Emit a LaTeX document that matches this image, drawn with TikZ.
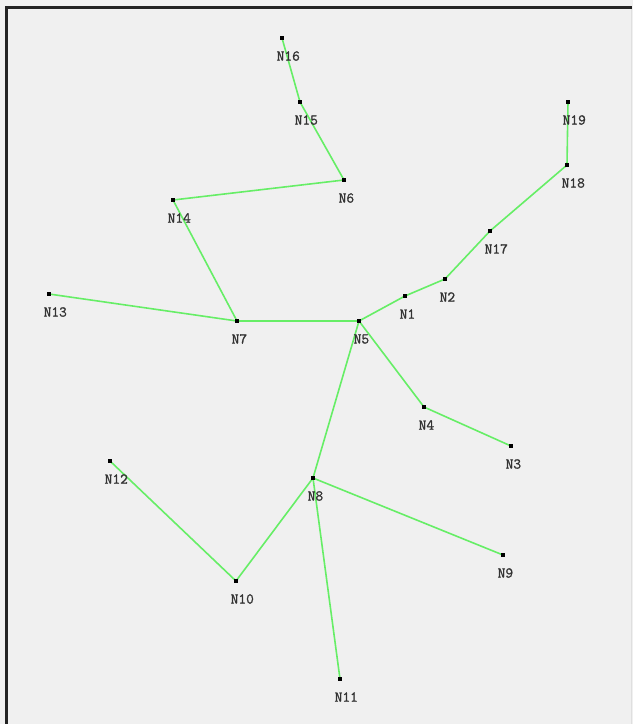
\documentclass[tikz,border=0pt]{standalone}
\usepackage{fontspec}
\newfontfamily\labfont[FakeBold=1.3]{Latin Modern Mono}
\definecolor{bgcol}{HTML}{F0F0F0}
\definecolor{framecol}{HTML}{232323}
\definecolor{edgecol}{HTML}{66EE66}
\definecolor{labcol}{HTML}{333333}
\tikzset{
  vtx/.style={fill=black, inner sep=0pt, minimum size=4pt, draw=none, rectangle},
  edge/.style={draw=edgecol, line width=1.6pt},
  lab/.style={anchor=west, inner sep=0pt, text=labcol, font=\labfont\fontsize{15}{16}\selectfont}
}
\begin{document}
\begin{tikzpicture}[x=1pt,y=-1pt]
\useasboundingbox (0,0) rectangle (633,724);
\fill[bgcol] (0,0) rectangle (633,724);
\fill[framecol] (5,6) rectangle (8,724);
\fill[framecol] (5,6) rectangle (632,9);
\draw[gray!25, line width=0.8pt] (631,9) -- (631,724);
% nodes
\node[vtx] (N16) at (282,38) {};
\node[vtx] (N15) at (300,102) {};
\node[vtx] (N6) at (344,180) {};
\node[vtx] (N14) at (173,200) {};
\node[vtx] (N13) at (49,294) {};
\node[vtx] (N7) at (237,321) {};
\node[vtx] (N5) at (359,321) {};
\node[vtx] (N1) at (405,296) {};
\node[vtx] (N2) at (445,279) {};
\node[vtx] (N17) at (490,231) {};
\node[vtx] (N18) at (567,165) {};
\node[vtx] (N19) at (568,102) {};
\node[vtx] (N4) at (424,407) {};
\node[vtx] (N3) at (511,446) {};
\node[vtx] (N12) at (110,461) {};
\node[vtx] (N8) at (313,478) {};
\node[vtx] (N10) at (236,581) {};
\node[vtx] (N9) at (503,555) {};
\node[vtx] (N11) at (340,679) {};
% edges
\draw[edge] (N16.center) -- (N15.center);
\draw[edge] (N15.center) -- (N6.center);
\draw[edge] (N6.center) -- (N14.center);
\draw[edge] (N14.center) -- (N7.center);
\draw[edge] (N13.center) -- (N7.center);
\draw[edge] (N7.center) -- (N5.center);
\draw[edge] (N5.center) -- (N1.center);
\draw[edge] (N1.center) -- (N2.center);
\draw[edge] (N2.center) -- (N17.center);
\draw[edge] (N17.center) -- (N18.center);
\draw[edge] (N18.center) -- (N19.center);
\draw[edge] (N5.center) -- (N4.center);
\draw[edge] (N4.center) -- (N3.center);
\draw[edge] (N5.center) -- (N8.center);
\draw[edge] (N8.center) -- (N10.center);
\draw[edge] (N10.center) -- (N12.center);
\draw[edge] (N8.center) -- (N9.center);
\draw[edge] (N8.center) -- (N11.center);
% vertex squares on top, and labels
\foreach \n in {N16,N15,N6,N14,N13,N7,N5,N1,N2,N17,N18,N19,N4,N3,N12,N8,N10,N9,N11}{
  \fill[black] ([xshift=-2pt,yshift=2pt]\n.center) rectangle ([xshift=2pt,yshift=-2pt]\n.center);
  \node[lab] (\n l) at ([xshift=-5.5pt,yshift=-18pt]\n.center) {\n};
}
\end{tikzpicture}
\end{document}
